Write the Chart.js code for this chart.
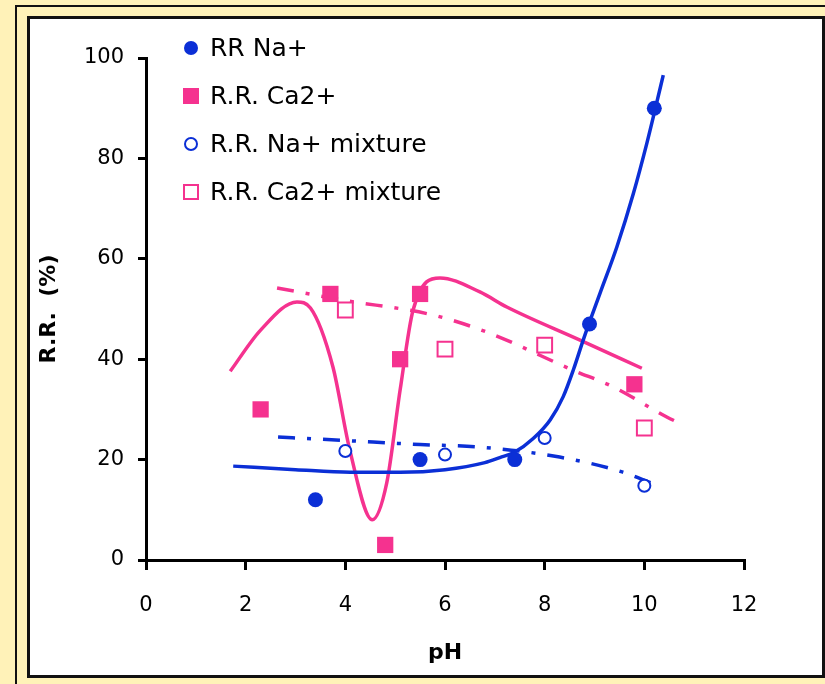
<!DOCTYPE html>
<html>
<head>
<meta charset="utf-8">
<script src="https://cdn.jsdelivr.net/npm/chart.js@4"></script>
<style>
  html, body { margin: 0; padding: 0; }
  body { width: 825px; height: 684px; background: #fff2b8; position: relative; overflow: hidden; }
  #outer { position: absolute; left: 15px; top: 5px; width: 830px; height: 700px; border-left: 2px solid #111; border-top: 2px solid #111; }
  #panel { position: absolute; left: 27px; top: 16px; width: 792px; height: 656px; background: #fff; border: 3px solid #111; }
  canvas { position: absolute; left: 0; top: 0; }
</style>
</head>
<body>
<div id="outer"></div>
<div id="panel"></div>
<canvas id="chart" width="825" height="684"></canvas>
<script>
const BLUE = "#0b2fd6";
const PINK = "#f5328f";

// measured points
const naPH = [3.4, 5.5, 7.4, 8.9, 10.2];
const naRR = [12, 20, 20, 47, 90];
const caPH = [2.3, 3.7, 4.8, 5.1, 5.5, 9.8];
const caRR = [30, 53, 3, 40, 53, 35];
const naMixPH = [4, 6, 8, 10];
const naMixRR = [21.7, 21, 24.3, 14.8];
const caMixPH = [4, 6, 8, 10];
const caMixRR = [49.8, 42, 42.8, 26.3];

// fitted curves
const naFitPH = [1.75, 3, 4.1, 5.1, 6, 6.8, 7.1, 7.4, 7.77, 8.11, 8.37, 8.58, 8.78, 9.11, 9.45, 9.78, 10.05, 10.21, 10.38];
const naFitRR = [18.7, 18, 17.5, 17.5, 18, 19.4, 20.4, 21.5, 24.2, 27.9, 32.5, 38, 44, 53.1, 62.4, 73, 83, 89.5, 96.6];
const caFitPH = [1.69, 2.3, 3.03, 3.3, 3.75, 4.09, 4.54, 4.83, 5.1, 5.36, 5.9, 6.7, 7.24, 8.71, 9.95];
const caFitRR = [37.6, 45.8, 51.4, 50.2, 38.5, 21.9, 8, 15.3, 33.9, 49.8, 56.2, 53.4, 50.4, 43.8, 38.2];
const naMixFitPH = [2.65, 4, 5.5, 6.7, 8.3, 9.57, 10.25];
const naMixFitRR = [24.5, 23.8, 23, 22.5, 20.5, 17.5, 14.9];
const caMixFitPH = [2.63, 3.93, 5.76, 6.84, 8.57, 9.37, 10.45, 10.78];
const caMixFitRR = [54.2, 51.8, 48.8, 45.4, 37.8, 34.5, 28.5, 26.9];

const xTicks = [0, 2, 4, 6, 8, 10, 12];
const yTicks = [0, 20, 40, 60, 80, 100];

const pts = (xs, ys) => xs.map((x, i) => ({ x: x, y: ys[i] }));

const DASHDOT = [17, 12, 4, 12];

const datasets = [
  { label: "RR Na+", data: pts(naPH, naRR), showLine: false, pointStyle: "circle",
    pointRadius: 7.5, backgroundColor: BLUE, borderColor: BLUE, borderWidth: 0, order: 0 },
  { label: "R.R. Ca2+", data: pts(caPH, caRR), showLine: false, pointStyle: "rect",
    pointRadius: 11.5, backgroundColor: PINK, borderColor: PINK, borderWidth: 0, order: 0 },
  { label: "R.R. Na+ mixture", data: pts(naMixPH, naMixRR), showLine: false, pointStyle: "circle",
    pointRadius: 6, backgroundColor: "#fff", borderColor: BLUE, borderWidth: 2, order: 0 },
  { label: "R.R. Ca2+ mixture", data: pts(caMixPH, caMixRR), showLine: false, pointStyle: "rect",
    pointRadius: 10.5, backgroundColor: "#fff", borderColor: PINK, borderWidth: 2, order: 0 },
  { label: "fit Na", data: pts(naFitPH, naFitRR), showLine: true, pointRadius: 0,
    borderColor: BLUE, borderWidth: 3.5, cubicInterpolationMode: "monotone", fill: false, order: 1 },
  { label: "fit Ca", data: pts(caFitPH, caFitRR), showLine: true, pointRadius: 0,
    borderColor: PINK, borderWidth: 3.5, cubicInterpolationMode: "monotone", fill: false, order: 1 },
  { label: "fit Na mix", data: pts(naMixFitPH, naMixFitRR), showLine: true, pointRadius: 0,
    borderColor: BLUE, borderWidth: 3.5, borderDash: DASHDOT, cubicInterpolationMode: "monotone", fill: false, order: 1 },
  { label: "fit Ca mix", data: pts(caMixFitPH, caMixFitRR), showLine: true, pointRadius: 0,
    borderColor: PINK, borderWidth: 3.5, borderDash: DASHDOT, cubicInterpolationMode: "monotone", fill: false, order: 1 }
];

// legend drawn inside the plot, top left
const legendPlugin = {
  id: "insideLegend",
  afterDraw(chart) {
    const ctx = chart.ctx;
    const rows = [48, 96, 144, 192];
    ctx.save();
    ctx.font = "25px 'DejaVu Sans'";
    ctx.textBaseline = "middle";
    for (let i = 0; i < 4; i++) {
      const ds = chart.data.datasets[i];
      const y = rows[i];
      const x = 191;
      ctx.fillStyle = ds.backgroundColor;
      ctx.strokeStyle = ds.borderColor;
      ctx.lineWidth = ds.borderWidth;
      if (ds.pointStyle === "circle") {
        const r = i === 0 ? 7 : 6;
        ctx.beginPath();
        ctx.arc(x, y, r, 0, Math.PI * 2);
        ctx.fill();
        if (ds.borderWidth) ctx.stroke();
      } else {
        const s = i === 1 ? 16 : 14;
        ctx.fillRect(x - s / 2, y - s / 2, s, s);
        if (ds.borderWidth) ctx.strokeRect(x - s / 2, y - s / 2, s, s);
      }
      ctx.fillStyle = "#000";
      ctx.fillText(ds.label, 210, y + 1);
    }
    ctx.restore();
  }
};

new Chart(document.getElementById("chart"), {
  type: "scatter",
  data: { datasets: datasets },
  options: {
    responsive: false,
    animation: false,
    devicePixelRatio: 1,
    layout: { padding: { left: 0, right: 81, top: 58, bottom: 0 } },
    plugins: { legend: { display: false }, tooltip: { enabled: false } },
    scales: {
      x: {
        type: "linear", min: 0, max: 12,
        afterFit(scale) { scale.height = 124; },
        afterBuildTicks(scale) { scale.ticks = xTicks.map(v => ({ value: v })); },
        grid: { drawOnChartArea: false, drawTicks: true, tickLength: 10, color: "#000", lineWidth: 3 },
        border: { display: true, color: "#000", width: 3 },
        ticks: { color: "#000", font: { family: "DejaVu Sans", size: 21 }, padding: 23, maxRotation: 0 },
        title: { display: true, text: "pH", color: "#000",
          font: { family: "DejaVu Sans", size: 22, weight: "bold" }, padding: { top: 0, bottom: 18 } }
      },
      y: {
        type: "linear", min: 0, max: 100,
        afterFit(scale) { scale.width = 146; },
        afterBuildTicks(scale) { scale.ticks = yTicks.map(v => ({ value: v })); },
        grid: { drawOnChartArea: false, drawTicks: true, tickLength: 8, color: "#000", lineWidth: 3 },
        border: { display: true, color: "#000", width: 3 },
        ticks: { color: "#000", font: { family: "DejaVu Sans", size: 21 }, padding: 14 },
        title: { display: true, text: "R.R.  (%)", color: "#000",
          font: { family: "DejaVu Sans", size: 22, weight: "bold" }, padding: { top: 36, bottom: 0 } }
      }
    }
  },
  plugins: [legendPlugin]
});
</script>
</body>
</html>
